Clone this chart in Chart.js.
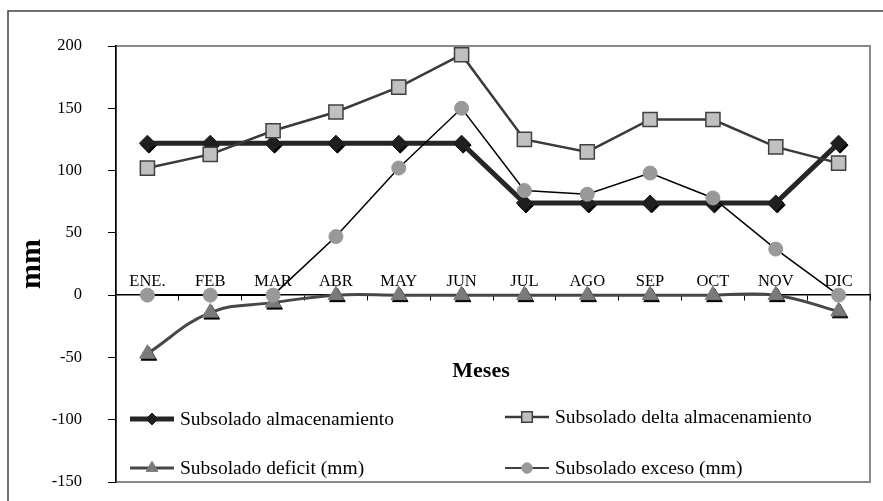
<!DOCTYPE html>
<html lang="es">
<head>
<meta charset="UTF-8">
<title>Subsolado - balance de agua</title>
<script src="https://cdn.jsdelivr.net/npm/chart.js@4.4.0/dist/chart.umd.min.js"></script>
<style>
  body { margin: 0; background: #fff; }
  #wrap { width: 883px; height: 501px; }
</style>
</head>
<body>
<div id="wrap"><canvas id="chart" width="883" height="501"></canvas></div>
<script>
// datos (mm)
const meses = ['ENE.', 'FEB', 'MAR', 'ABR', 'MAY', 'JUN', 'JUL', 'AGO', 'SEP', 'OCT', 'NOV', 'DIC'];
const almacenamiento = [122, 122, 122, 122, 122, 122, 74, 74, 74, 74, 74, 122];
const deltaAlmacenamiento = [102, 113, 132, 147, 167, 193, 125, 115, 141, 141, 119, 106];
const deficit = [-47, -14, -6, 0, 0, 0, 0, 0, 0, 0, 0, -13];
const exceso = [0, 0, 0, 47, 102, 150, 84, 81, 98, 78, 37, 0];
const nombres = ['Subsolado almacenamiento', 'Subsolado delta almacenamiento', 'Subsolado deficit (mm)', 'Subsolado exceso (mm)'];

const serif = '"Liberation Serif", "Times New Roman", serif';
Chart.defaults.font.family = serif;
Chart.defaults.color = '#000';

// marco exterior y borde del area de trazado
const marco = {
  id: 'marco',
  beforeDraw(chart) {
    const ctx = chart.ctx, a = chart.chartArea;
    ctx.save();
    ctx.fillStyle = '#fff';
    ctx.fillRect(0, 0, chart.width, chart.height);
    ctx.strokeStyle = '#444';
    ctx.lineWidth = 1.5;
    ctx.beginPath();
    ctx.moveTo(8, chart.height);
    ctx.lineTo(8, 11);
    ctx.lineTo(chart.width, 11);
    ctx.stroke();
    ctx.strokeStyle = '#888';
    ctx.lineWidth = 2;
    ctx.strokeRect(a.left, a.top, a.right - a.left, a.bottom - a.top);
    ctx.restore();
  }
};

// sombra negra debajo de rombos y triangulos (como en Excel)
const sombra = {
  id: 'sombra',
  beforeDatasetDraw(chart, args) {
    const ds = chart.data.datasets[args.index];
    if (!ds.sombra) return;
    const ctx = chart.ctx;
    ctx.save();
    ctx.fillStyle = '#000';
    ctx.strokeStyle = '#000';
    args.meta.data.forEach(p => {
      Chart.helpers.drawPoint(ctx, {pointStyle: ds.pointStyle, radius: ds.pointRadius, borderWidth: 1, rotation: 0}, p.x + 1.5, p.y + 2);
    });
    ctx.restore();
  }
};

// leyenda en dos columnas dentro del grafico + titulo "Meses"
const leyenda = {
  id: 'leyenda',
  afterDraw(chart) {
    const ctx = chart.ctx;
    const pos = [[130, 419], [505, 417], [130, 468], [505, 468]];
    ctx.save();
    chart.data.datasets.forEach((ds, i) => {
      const [x, y] = pos[i];
      ctx.strokeStyle = ds.borderColor;
      ctx.lineWidth = ds.borderWidth;
      ctx.beginPath();
      ctx.moveTo(x, y);
      ctx.lineTo(x + 44, y);
      ctx.stroke();
      ctx.fillStyle = ds.pointBackgroundColor;
      ctx.strokeStyle = ds.pointBorderColor;
      ctx.lineWidth = ds.pointBorderWidth;
      Chart.helpers.drawPoint(ctx, {pointStyle: ds.pointStyle, radius: ds.pointRadius * 0.75, borderWidth: ds.pointBorderWidth, rotation: 0}, x + 22, y);
      ctx.fillStyle = '#000';
      ctx.font = '19.5px ' + serif;
      ctx.textBaseline = 'middle';
      ctx.textAlign = 'left';
      ctx.fillText(nombres[i], x + 50, y + 1);
    });
    ctx.font = 'bold 22px ' + serif;
    ctx.textAlign = 'center';
    ctx.textBaseline = 'alphabetic';
    ctx.fillText('Meses', 481, 377);
    ctx.restore();
  }
};

new Chart(document.getElementById('chart'), {
  type: 'line',
  data: {
    labels: meses,
    datasets: [
      {
        label: nombres[0], data: almacenamiento, order: 4, sombra: true,
        borderColor: '#262626', borderWidth: 5, tension: 0,
        pointStyle: 'rectRot', pointRadius: 8,
        pointBackgroundColor: '#1f1f1f', pointBorderColor: '#1f1f1f', pointBorderWidth: 1
      },
      {
        label: nombres[1], data: deltaAlmacenamiento, order: 3,
        borderColor: '#3a3a3a', borderWidth: 2.5, tension: 0,
        pointStyle: 'rect', pointRadius: 10,
        pointBackgroundColor: '#c0c0c0', pointBorderColor: '#404040', pointBorderWidth: 1.5
      },
      {
        label: nombres[2], data: deficit, order: 2, sombra: true,
        borderColor: '#474747', borderWidth: 3, tension: 0.4,
        pointStyle: 'triangle', pointRadius: 9,
        pointBackgroundColor: '#7a7a7a', pointBorderColor: '#7a7a7a', pointBorderWidth: 1
      },
      {
        label: nombres[3], data: exceso, order: 1,
        borderColor: '#000', borderWidth: 1.5, tension: 0,
        pointStyle: 'circle', pointRadius: 7,
        pointBackgroundColor: '#999', pointBorderColor: '#999', pointBorderWidth: 1
      }
    ]
  },
  options: {
    responsive: false,
    animation: false,
    layout: { padding: { top: 46, left: 0, right: 13, bottom: 19 } },
    plugins: { legend: { display: false }, tooltip: { enabled: false } },
    scales: {
      x: {
        type: 'category',
        position: { y: 0 },
        offset: true,
        grid: { offset: true, drawOnChartArea: false, drawTicks: true, tickLength: 5, color: '#000', lineWidth: 1 },
        border: { display: true, color: '#000', width: 1.5 },
        ticks: { color: '#000', font: { size: 16.5 }, padding: -28, maxRotation: 0, autoSkip: false },
        afterFit(s) { s.paddingLeft = 0; s.paddingRight = 0; }
      },
      y: {
        min: -150,
        max: 200,
        ticks: { stepSize: 50, color: '#000', font: { size: 16.5 }, padding: 26 },
        grid: { drawOnChartArea: false, tickLength: 8, color: '#000' },
        border: { color: '#000', width: 1.5 },
        title: { display: true, text: 'mm', color: '#000', font: { size: 30, weight: 'bold' }, padding: { top: 14 } },
        afterFit(s) { s.width = 116; s.paddingTop = 0; s.paddingBottom = 0; }
      }
    }
  },
  plugins: [marco, sombra, leyenda]
});
</script>
</body>
</html>
